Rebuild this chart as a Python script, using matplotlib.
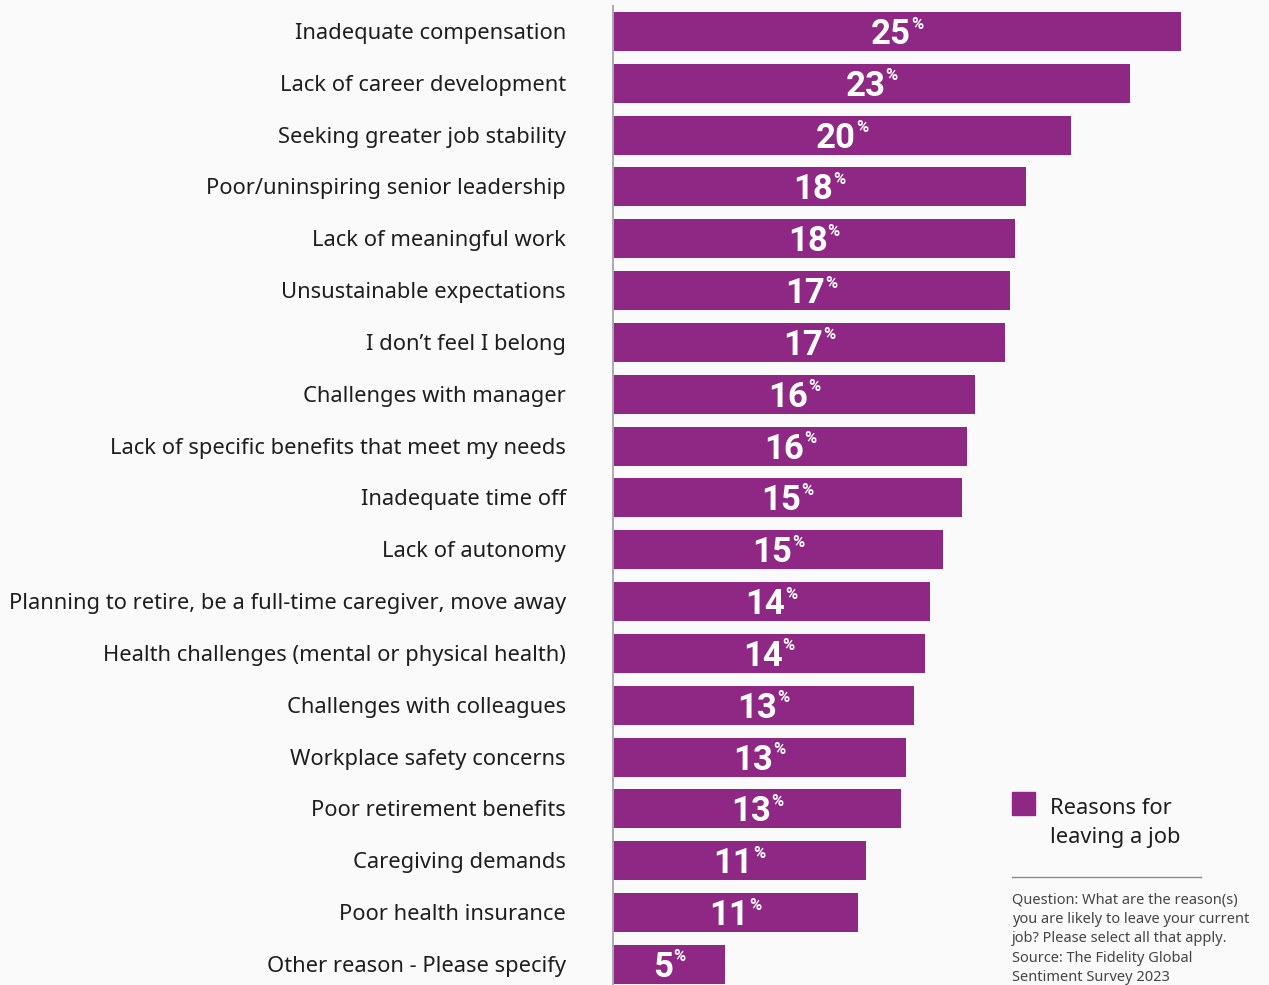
import numpy as np
import matplotlib.pyplot as plt

reasons = [
    "Inadequate compensation",
    "Lack of career development",
    "Seeking greater job stability",
    "Poor/uninspiring senior leadership",
    "Lack of meaningful work",
    "Unsustainable expectations",
    "I don\u2019t feel I belong",
    "Challenges with manager",
    "Lack of specific benefits that meet my needs",
    "Inadequate time off",
    "Lack of autonomy",
    "Planning to retire, be a full-time caregiver, move away",
    "Health challenges (mental or physical health)",
    "Challenges with colleagues",
    "Workplace safety concerns",
    "Poor retirement benefits",
    "Caregiving demands",
    "Poor health insurance",
    "Other reason - Please specify",
]
shares = [25.0, 22.75, 20.16, 18.18, 17.69, 17.47, 17.25, 15.93, 15.58, 15.36,
          14.52, 13.95, 13.73, 13.25, 12.9, 12.68, 11.14, 10.78, 4.93]

legend_label = "Reasons for\nleaving a job"
note = ("Question: What are the reason(s)\n"
        "you are likely to leave your current\n"
        "job? Please select all that apply.\n"
        "Source: The Fidelity Global\n"
        "Sentiment Survey 2023")

purple = "#8f2884"
bg = "#fafafa"
W, H = 1269, 985

fig = plt.figure(figsize=(W / 100, H / 100), dpi=100, facecolor=bg)
# axes starts at the bar baseline and runs to the right edge
ax = fig.add_axes([613 / W, 0, 1 - 613 / W, 1])
ax.set_facecolor("none")

px_per_pct = 568 / 25
pitch = 51.83
y = np.arange(len(reasons))
ax.barh(y, shares, height=39 / pitch, color=purple, left=0)
ax.set_xlim(0, (W - 613) / px_per_pct)
ax.set_ylim((H - 31.5) / pitch, -31.5 / pitch)

for s in ["top", "right", "bottom"]:
    ax.spines[s].set_visible(False)
ax.spines["left"].set_color("#a9a9b0")
ax.spines["left"].set_linewidth(1.4)
ax.spines["left"].set_bounds((H - 31.5) / pitch, -25.5 / pitch)
ax.set_xticks([])
ax.set_yticks([])

# category labels to the left of the baseline
for i, r in enumerate(reasons):
    ax.annotate(r, (0, i), xytext=(-47, -2), textcoords="offset pixels",
                ha="right", va="center", fontsize=15.8, color="#1e1e1e",
                family="Noto Sans")

# value labels: big number plus a small raised percent sign, centred in the bar
fig.canvas.draw()
rend = fig.canvas.get_renderer()
inv = ax.transData.inverted()
for i, v in enumerate(shares):
    num = ax.text(0, i, f"{round(v)}", fontsize=25, fontweight="bold",
                  color="white", family=["Liberation Sans Narrow", "Roboto"],
                  va="baseline", ha="left")
    pct = ax.text(0, i, "%", fontsize=12, fontweight="bold", color="white",
                  family=["Liberation Sans Narrow", "Roboto"],
                  va="baseline", ha="left")
    wn = num.get_window_extent(rend).width
    wp = pct.get_window_extent(rend).width
    cx, cy = ax.transData.transform((v / 2, i))
    x0 = cx - (wn + wp) / 2
    num.set_position(inv.transform((x0, cy - 12.5)))
    pct.set_position(inv.transform((x0 + wn, cy + 3)))

# legend, rule and source note
fig.patches.append(plt.Rectangle((1012 / W, 1 - 815 / H), 23 / W, 23 / H,
                                 transform=fig.transFigure, color=purple))
fig.text(1050 / W, 1 - 823 / H, legend_label, fontsize=15.8, color="#1e1e1e",
         family="Noto Sans", va="center", linespacing=1.5)
fig.add_artist(plt.Line2D([1012 / W, 1201 / W], [1 - 877 / H, 1 - 877 / H],
                          transform=fig.transFigure, color="#8a8a8a", lw=1))
fig.text(1012 / W, 1 - 893 / H, note, fontsize=10.5, color="#454545",
         family="Noto Sans", va="top", linespacing=1.38)

fig.savefig("out.png", dpi=100, facecolor=bg)
